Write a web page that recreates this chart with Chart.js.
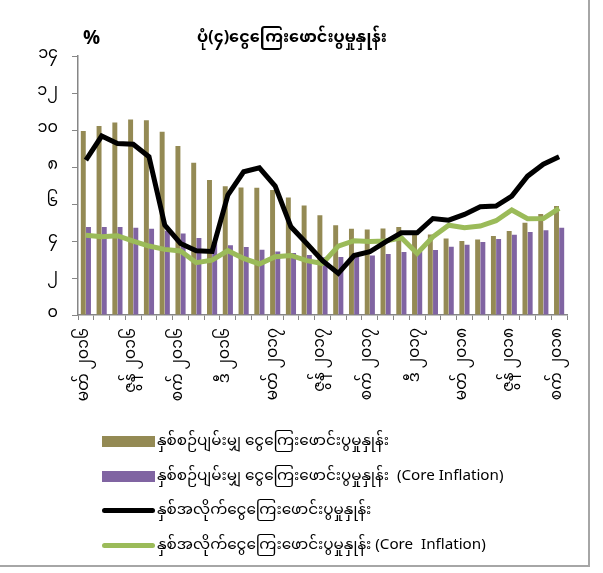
<!DOCTYPE html>
<html>
<head>
<meta charset="utf-8">
<script src="https://cdn.jsdelivr.net/npm/chart.js@4"></script>
<style>
  body { margin: 0; background: #fff; }
  #frame { position: relative; width: 588px; height: 565px; border-right: 2px solid #a6a6a6; border-bottom: 2px solid #a6a6a6; }
  #chartBox { position: absolute; left: 0; top: 0; width: 588px; height: 425px; }
  #legend { position: absolute; left: 102px; top: 424px; font-family: "Noto Sans Myanmar", "Padauk", "Myanmar Text", "Noto Sans", sans-serif; font-size: 15.2px; color: #000; }
  .row { display: flex; align-items: center; height: 34.7px; white-space: pre; }
  .sw { width: 53px; margin-right: 2px; }
</style>
</head>
<body>
<div id="frame">
  <div id="chartBox"><canvas id="inflationChart"></canvas></div>
  <div id="legend"></div>
</div>
<script>
const months = ["မတ်", "ဧပြီ", "မေ", "ဇွန်", "ဇူ", "ဩ", "စက်", "အောက်", "နို", "ဒီ", "ဇန်", "ဖေ"];
const startYear = 2016;

function toMyanmar(n) {
    const digits = "၀၁၂၃၄၅၆၇၈၉";
    return String(n).replace(/[0-9]/g, d => digits[+d]);
}

// Mar 2016 .. Sep 2018 (31 months)
const categories = [];
for (let i = 0; i < 31; i++) {
    const y = startYear + Math.floor((2 + i) / 12);
    categories.push(`${months[i % 12]} ${toMyanmar(y)}`);
}

const annualAvg = [9.96, 10.22, 10.41, 10.58, 10.54, 9.91, 9.14, 8.23, 7.30, 6.97, 6.90, 6.88, 6.76, 6.36, 5.93, 5.39,
    4.86, 4.67, 4.63, 4.68, 4.76, 4.45, 4.36, 4.14, 4.00, 4.09, 4.27, 4.54, 4.99, 5.46, 5.89];
const annualAvgCore = [4.76, 4.76, 4.76, 4.72, 4.67, 4.56, 4.41, 4.16, 3.95, 3.77, 3.68, 3.53, 3.44, 3.35, 3.24, 3.12,
    3.14, 3.15, 3.22, 3.30, 3.41, 3.43, 3.51, 3.69, 3.80, 3.95, 4.11, 4.34, 4.49, 4.58, 4.72];
const yoy = [8.38, 9.68, 9.28, 9.24, 8.56, 4.86, 3.87, 3.48, 3.44, 6.49, 7.75, 7.96, 6.97, 4.77, 3.87, 2.94,
    2.25, 3.22, 3.42, 3.96, 4.45, 4.45, 5.22, 5.13, 5.44, 5.86, 5.89, 6.43, 7.51, 8.16, 8.56];
const yoyCore = [4.32, 4.23, 4.29, 4.00, 3.73, 3.55, 3.46, 2.83, 2.97, 3.48, 3.06, 2.76, 3.15, 3.22, 2.94, 2.79,
    3.73, 4.02, 3.98, 4.00, 4.18, 3.33, 4.23, 4.86, 4.72, 4.81, 5.10, 5.68, 5.21, 5.22, 5.77];

const yTicks = [0, 2, 4, 6, 8, 10, 12, 14];

const mmFont = '"Noto Sans Myanmar", "Padauk", "Myanmar Text", "Noto Sans", sans-serif';

const percentSign = {
    id: "percentSign",
    afterDraw(chart) {
        const ctx = chart.ctx;
        ctx.save();
        ctx.font = "bold 19px " + mmFont;
        ctx.fillStyle = "#000";
        ctx.textBaseline = "middle";
        ctx.fillText("%", 83, 42);
        ctx.restore();
    }
};

const ctx = document.getElementById("inflationChart").getContext("2d");
const chart = new Chart(ctx, {
    type: "bar",
    data: {
        labels: categories,
        datasets: [
            {
                type: "line",
                label: "နှစ်အလိုက်ငွေကြေးဖောင်းပွမှုနှုန်း",
                data: yoy,
                borderColor: "#000000",
                backgroundColor: "#000000",
                borderWidth: 5,
                pointRadius: 0,
                tension: 0,
                order: 0
            },
            {
                type: "line",
                label: "နှစ်အလိုက်ငွေကြေးဖောင်းပွမှုနှုန်း (Core  Inflation)",
                data: yoyCore,
                borderColor: "#9bbb59",
                backgroundColor: "#9bbb59",
                borderWidth: 5,
                pointRadius: 0,
                tension: 0,
                order: 1
            },
            {
                label: "နှစ်စဉ်ပျမ်းမျှ ငွေကြေးဖောင်းပွမှုနှုန်း",
                data: annualAvg,
                backgroundColor: "#948a54",
                barPercentage: 0.95,
                categoryPercentage: 0.66,
                order: 2
            },
            {
                label: "နှစ်စဉ်ပျမ်းမျှ ငွေကြေးဖောင်းပွမှုနှုန်း  (Core Inflation)",
                data: annualAvgCore,
                backgroundColor: "#8064a2",
                barPercentage: 0.95,
                categoryPercentage: 0.66,
                order: 3
            }
        ]
    },
    options: {
        responsive: true,
        maintainAspectRatio: false,
        animation: false,
        layout: { padding: { top: 0, right: 21, left: 17, bottom: 0 } },
        plugins: {
            legend: { display: false },
            tooltip: { enabled: false },
            title: {
                display: true,
                text: "ပုံ(၄)ငွေကြေးဖောင်းပွမှုနှုန်း",
                color: "#000",
                font: { family: mmFont, size: 16, weight: "bold" },
                padding: { top: 31, bottom: 6 }
            }
        },
        scales: {
            x: {
                afterFit(scale) { scale.height = 110; },
                grid: { drawOnChartArea: false, tickLength: 5, color: "#868686", offset: true },
                border: { color: "#868686", width: 1.5 },
                ticks: {
                    autoSkip: false,
                    maxRotation: 90,
                    minRotation: 90,
                    padding: 8,
                    color: "#000",
                    font: { family: mmFont, size: 15.5 },
                    callback(val, index) { return index % 3 === 0 ? this.getLabelForValue(val) : ""; }
                }
            },
            y: {
                min: 0,
                max: 14,
                afterFit(scale) { scale.width = 61; },
                afterBuildTicks(scale) { scale.ticks = yTicks.map(v => ({ value: v })); },
                grid: { drawOnChartArea: false, tickLength: 6, color: "#868686" },
                border: { color: "#868686", width: 1.5 },
                ticks: {
                    padding: 14,
                    color: "#000",
                    font: { family: mmFont, size: 16 },
                    callback: v => toMyanmar(v)
                }
            }
        }
    },
    plugins: [percentSign]
});

// legend built from the datasets
const legendOrder = [2, 3, 0, 1];
document.getElementById("legend").innerHTML = legendOrder.map(i => {
    const ds = chart.data.datasets[i];
    const sw = ds.type === "line"
        ? `<div class="sw" style="height:5px;border-radius:3px;background:${ds.borderColor}"></div>`
        : `<div class="sw" style="height:11px;background:${ds.backgroundColor}"></div>`;
    return `<div class="row">${sw}<span>${ds.label}</span></div>`;
}).join("");
</script>
</body>
</html>
